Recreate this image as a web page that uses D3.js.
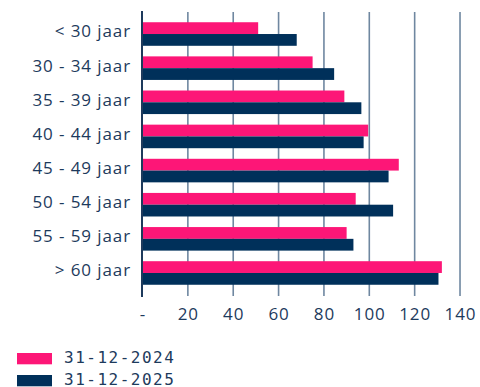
<!DOCTYPE html>
<html>
<head>
<meta charset="utf-8">
<script src="https://cdn.jsdelivr.net/npm/d3@7"></script>
<style>
  html, body { margin: 0; padding: 0; background: #ffffff; }
  svg { display: block; }
</style>
</head>
<body>
<svg id="chart" width="480" height="387"></svg>
<script>
// Age groups and counts at two reference dates
const categories = ["< 30 jaar", "30 - 34 jaar", "35 - 39 jaar", "40 - 44 jaar",
                    "45 - 49 jaar", "50 - 54 jaar", "55 - 59 jaar", "> 60 jaar"];
const seriesNames = ["31-12-2024", "31-12-2025"];
const values2024 = [51, 75, 89, 99.5, 113, 94, 90, 132];
const values2025 = [68, 84.5, 96.5, 97.5, 108.5, 110.5, 93, 130.5];
const tickValues = [0, 20, 40, 60, 80, 100, 120, 140];
const tickLabels = ["-", "20", "40", "60", "80", "100", "120", "140"];

const colors = ["#fd1677", "#00305a"];
const textColor = "#1d3a5c";
const gridColor = "#6f87a0";
const font = "'Open Sans', sans-serif";
const monoFont = "'DejaVu Sans Mono', monospace";

const svg = d3.select("#chart");
const margin = { left: 142.5, top: 12 };

const x = d3.scaleLinear().domain([0, 140]).range([margin.left, margin.left + 140 * 2.268]);
const y = d3.scaleBand().domain(categories).range([margin.top, 295]).paddingInner(0.31).paddingOuter(0.3);
const ySub = d3.scaleBand().domain(seriesNames).range([0, y.bandwidth()]);

const rows = categories.map((c, i) => ({ cat: c, vals: [values2024[i], values2025[i]] }));

// vertical gridlines
svg.append("g").selectAll("line")
  .data(tickValues.filter(t => t > 0))
  .join("line")
  .attr("x1", d => x(d)).attr("x2", d => x(d))
  .attr("y1", margin.top).attr("y2", 296)
  .attr("stroke", gridColor).attr("stroke-width", 1.6);

// bars
const groups = svg.append("g").selectAll("g")
  .data(rows).join("g")
  .attr("transform", d => `translate(0,${y(d.cat)})`);

groups.selectAll("rect")
  .data(d => d.vals.map((v, j) => ({ v, s: seriesNames[j], j })))
  .join("rect")
  .attr("x", x(0))
  .attr("y", d => ySub(d.s))
  .attr("width", d => x(d.v) - x(0))
  .attr("height", ySub.bandwidth())
  .attr("fill", d => colors[d.j]);

// y axis line
svg.append("line")
  .attr("x1", x(0) - 0.5).attr("x2", x(0) - 0.5)
  .attr("y1", margin.top - 1).attr("y2", 297)
  .attr("stroke", "#1d3a5c").attr("stroke-width", 2);

// category labels
svg.append("g").selectAll("text")
  .data(categories).join("text")
  .attr("x", 131)
  .attr("y", d => y(d) + y.bandwidth() / 2)
  .attr("dy", "0.2em")
  .attr("text-anchor", "end")
  .attr("font-family", font)
  .attr("font-size", 17)
  .attr("letter-spacing", 0.9)
  .attr("fill", textColor)
  .text(d => d);

// x tick labels
svg.append("g").selectAll("text")
  .data(tickValues).join("text")
  .attr("x", d => x(d) + 0.5)
  .attr("y", 320)
  .attr("text-anchor", "middle")
  .attr("font-family", font)
  .attr("font-size", 17)
  .attr("letter-spacing", 0.9)
  .attr("fill", textColor)
  .text((d, i) => tickLabels[i]);

// legend
const legend = svg.append("g").selectAll("g")
  .data(seriesNames).join("g")
  .attr("transform", (d, i) => `translate(17,${353 + i * 22})`);
legend.append("rect")
  .attr("width", 35).attr("height", 11.3)
  .attr("fill", (d, i) => colors[i]);
legend.append("text")
  .attr("x", 47).attr("y", 10)
  .attr("font-family", monoFont)
  .attr("font-size", 16)
  .attr("letter-spacing", 1.5)
  .attr("fill", textColor)
  .text(d => d);
</script>
</body>
</html>
